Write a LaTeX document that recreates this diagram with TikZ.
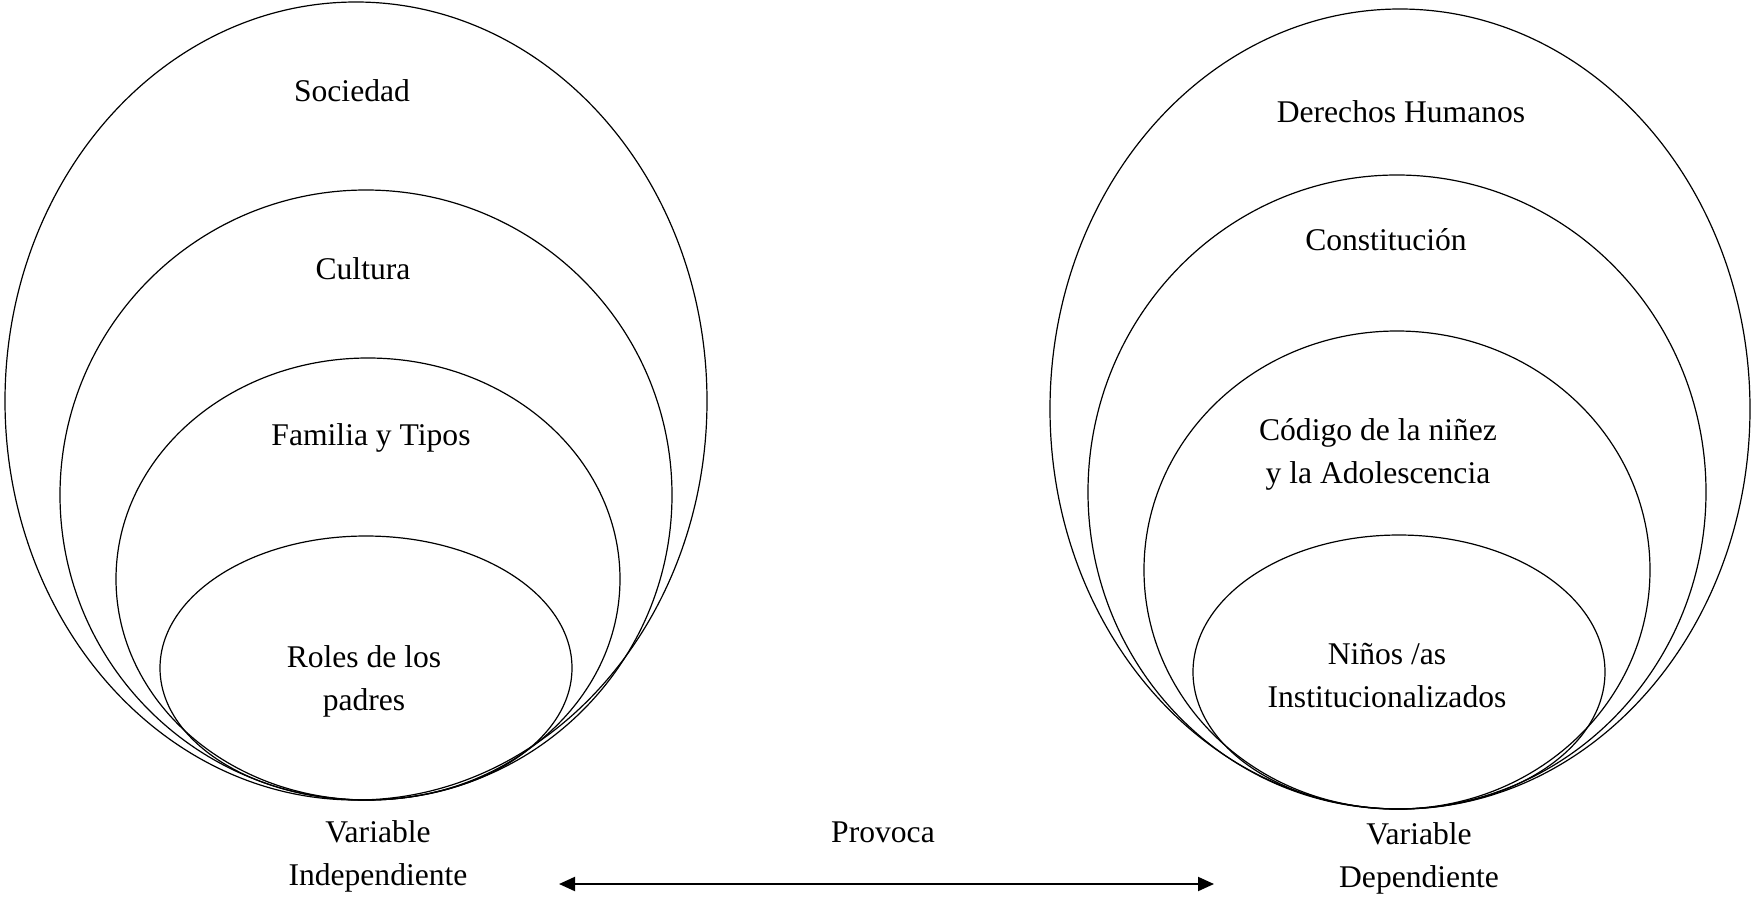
\documentclass[tikz,border=0pt]{standalone}
\usepackage{fontspec}
\setmainfont{Liberation Serif}
\usetikzlibrary{arrows.meta}

\begin{document}
\begin{tikzpicture}[x=0.5pt,y=-0.5pt]

      \useasboundingbox (0,0) rectangle (1752,900);

      \begin{scope}[line width=0.6pt]
        \draw (356,401) ellipse (351 and 399);
        \draw (366,495) ellipse (306 and 305);
        \draw (368,579) ellipse (252 and 221);
        \draw (366,668) ellipse (206 and 132);

        \draw (1400,409) ellipse (350 and 400);
        \draw (1397,492) ellipse (309 and 317);
        \draw (1397,570) ellipse (253 and 239);
        \draw (1399,672) ellipse (206 and 137);
      \end{scope}

      \begin{scope}[every node/.style={align=center, font=\fontsize{15.8}{21.5}\selectfont}]
        \node (1)  at (352,91)  {Sociedad};
        \node (2)  at (363,269) {Cultura};
        \node (3)  at (371,438) {Familia y Tipos};
        \node (4)  at (364,681) {Roles de los\\padres};
        \node (5)  at (378,856) {Variable\\Independiente};
        \node (6)  at (883,832) {Provoca};
        \node (7)  at (1401,112) {Derechos Humanos};
        \node (8)  at (1386,240) {Constitución};
        \node (9)  at (1378,454) {Código de la niñez\\y la Adolescencia};
        \node (10) at (1387,675) {Niños /as\\Institucionalizados};
        \node (11) at (1419,858) {Variable\\Dependiente};
      \end{scope}

      \coordinate (12) at (559,884);
      \coordinate (13) at (1214,884);
      \draw[line width=1pt, {Triangle[length=8pt,width=7pt]}-{Triangle[length=8pt,width=7pt]}] (12) -- (13);

    \end{tikzpicture}
\end{document}
